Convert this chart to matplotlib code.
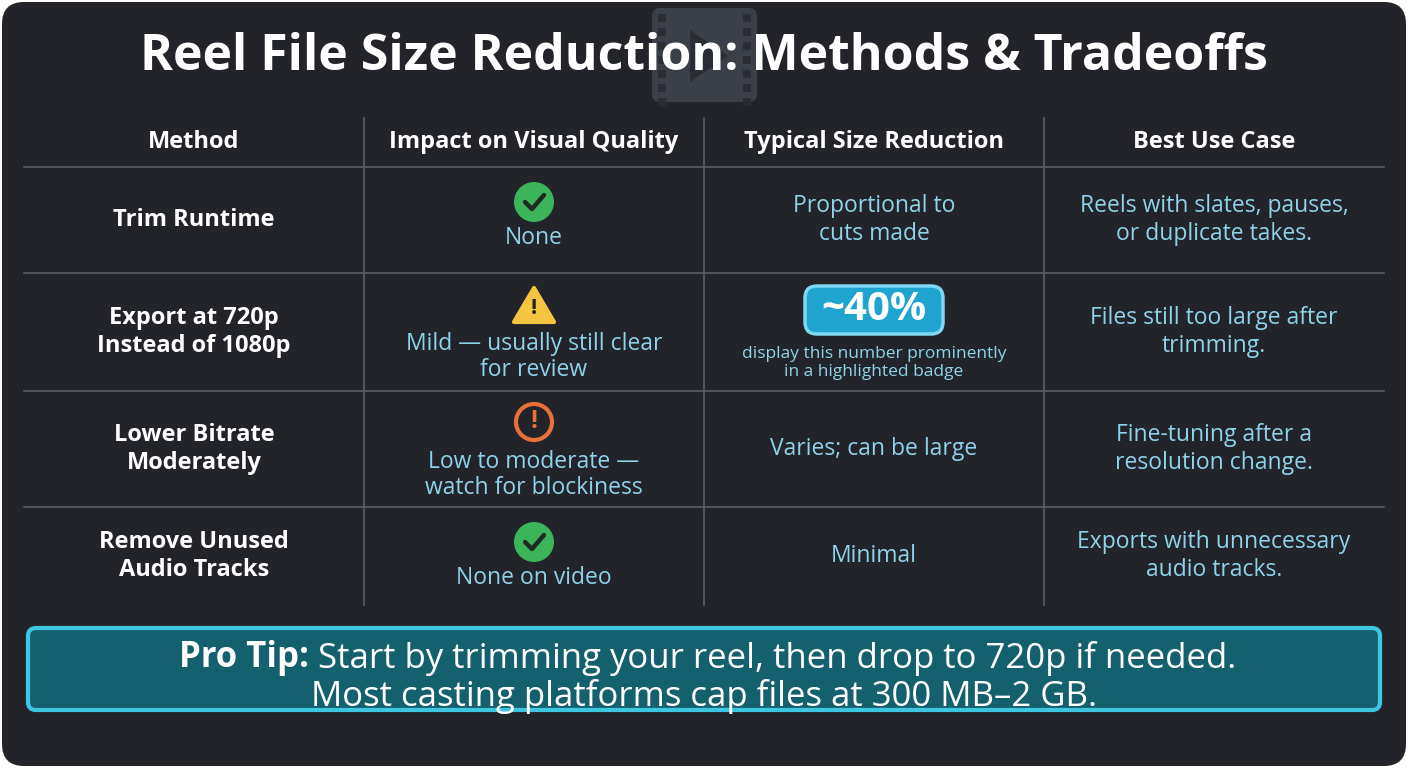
import matplotlib
matplotlib.use("Agg")
import matplotlib.pyplot as plt
import matplotlib.transforms as mtrans
from matplotlib.patches import FancyBboxPatch, Circle, Polygon, Rectangle

title = "Reel File Size Reduction: Methods & Tradeoffs"
headers = ["Method", "Impact on Visual Quality", "Typical Size Reduction", "Best Use Case"]
methods = ["Trim Runtime", "Export at 720p\nInstead of 1080p", "Lower Bitrate\nModerately", "Remove Unused\nAudio Tracks"]
impacts = ["None", "Mild — usually still clear\nfor review", "Low to moderate —\nwatch for blockiness", "None on video"]
icons = ["check", "warn", "alert", "check"]
reductions = ["Proportional to\ncuts made", "~40%", "Varies; can be large", "Minimal"]
badge_note = "display this number prominently\nin a highlighted badge"
uses = ["Reels with slates, pauses,\nor duplicate takes.", "Files still too large after\ntrimming.",
        "Fine-tuning after a\nresolution change.", "Exports with unnecessary\naudio tracks."]
tip_bold = "Pro Tip:"
tip_line1 = " Start by trimming your reel, then drop to 720p if needed."
tip_line2 = "Most casting platforms cap files at 300 MB–2 GB."

FONT = "Open Sans"
W, H = 1408, 768
fig = plt.figure(figsize=(14.08, 7.68), dpi=100, facecolor="white")
ax = fig.add_axes([0, 0, 1, 1])
ax.set_xlim(0, W); ax.set_ylim(H, 0); ax.axis("off")

ax.add_patch(FancyBboxPatch((2, 2), W - 4, H - 4, boxstyle="round,pad=0,rounding_size=22",
                            fc="#222429", ec="none"))
# film icon
ax.add_patch(FancyBboxPatch((652, 8), 105, 94, boxstyle="round,pad=0,rounding_size=8", fc="#3a3f48", ec="none", zorder=1))
for yy in range(14, 100, 14):
    ax.add_patch(Rectangle((658, yy), 8, 8, fc="#2a2d33", ec="none", zorder=1.5))
    ax.add_patch(Rectangle((743, yy), 8, 8, fc="#2a2d33", ec="none", zorder=1.5))
ax.add_patch(Polygon([(690, 30), (690, 82), (728, 56)], fc="#2a2d33", ec="none", zorder=1.5))
ax.text(704, 57, title, ha="center", va="center", color="white", fontsize=36, fontweight="bold",
        family=FONT, zorder=3)

cols = [24, 364, 704, 1044, 1384]
rows = [118, 167, 273, 391, 507, 605]
lc = "#5a5e66"
for x in cols[1:-1]:
    ax.plot([x, x], [rows[0], rows[-1]], color=lc, lw=1.2)
for y in rows[1:-1]:
    ax.plot([cols[0], cols[-1]], [y, y], color=lc, lw=1.2)
cx = [(cols[i] + cols[i + 1]) / 2 for i in range(4)]
blue = "#8fd3ea"
for i, h in enumerate(headers):
    ax.text(cx[i], 142, h, ha="center", va="center", color="white", fontsize=17, fontweight="bold", family=FONT)

for r in range(4):
    y0, y1 = rows[r + 1], rows[r + 2]
    ym = (y0 + y1) / 2
    ax.text(cx[0], ym, methods[r], ha="center", va="center", color="white", fontsize=17,
            fontweight="bold", family=FONT, linespacing=1.25)
    iy = y0 + 33
    if icons[r] == "check":
        ax.add_patch(Circle((cx[1], iy + 2), 20, fc="#3cb55a", ec="none"))
        ax.plot([cx[1] - 9, cx[1] - 2, cx[1] + 10], [iy + 2, iy + 9, iy - 5], color="#1e2a22", lw=3.2,
                solid_capstyle="round", solid_joinstyle="round")
    elif icons[r] == "warn":
        ax.add_patch(Polygon([(cx[1] - 20, iy + 16), (cx[1] + 20, iy + 16), (cx[1], iy - 18)],
                             closed=True, fc="#f5c542", ec="#f5c542", lw=3, joinstyle="round"))
        ax.text(cx[1], iy + 2, "!", ha="center", va="center", color="#222", fontsize=16, fontweight="bold", family=FONT)
    else:
        ax.add_patch(Circle((cx[1], iy - 2), 18, fc="none", ec="#e8703a", lw=3))
        ax.text(cx[1], iy - 3, "!", ha="center", va="center", color="#e8703a", fontsize=18, fontweight="bold", family=FONT)
    ty = y0 + 71 + (13 if "\n" in impacts[r] else 0)
    ax.text(cx[1], ty, impacts[r], ha="center", va="center",
            color=blue, fontsize=16.5, family=FONT, linespacing=1.15)
    if reductions[r].startswith("~"):
        ax.add_patch(FancyBboxPatch((805, 286), 138, 48, boxstyle="round,pad=0,rounding_size=12",
                                    fc="#1fa3cf", ec="#7fd9f2", lw=2.5))
        ax.text(874, 310, reductions[r], ha="center", va="center", color="white", fontsize=29,
                fontweight="bold", family=FONT)
        ax.text(874, 363, badge_note, ha="center", va="center", color=blue, fontsize=12.5,
                family=FONT, linespacing=1.15)
    else:
        ax.text(cx[2], ym, reductions[r], ha="center", va="center", color=blue, fontsize=16.5,
                family=FONT, linespacing=1.25)
    ax.text(cx[3], ym, uses[r], ha="center", va="center", color=blue, fontsize=16.5,
            family=FONT, linespacing=1.25)

ax.add_patch(FancyBboxPatch((28, 628), 1352, 82, boxstyle="round,pad=0,rounding_size=8",
                            fc="#15606f", ec="#3cc6e0", lw=3))
ident = mtrans.IdentityTransform()
blend = mtrans.blended_transform_factory(ident, ax.transData)
t1 = ax.text(704, 658, tip_bold + tip_line1, ha="center", va="center", color="white", fontsize=25,
             family=FONT, alpha=0)
fig.canvas.draw()
bb = t1.get_window_extent()
tb = ax.text(bb.x0, 658, tip_bold, ha="left", va="center", color="white",
             fontsize=25, fontweight="bold", family=FONT, transform=blend)
fig.canvas.draw()
bb2 = tb.get_window_extent()
ax.text(bb2.x1, 658, tip_line1, ha="left", va="center", color="white", fontsize=25, family=FONT,
        transform=blend)
ax.text(704, 696, tip_line2, ha="center", va="center", color="white", fontsize=25, family=FONT)

fig.savefig("out.png", dpi=100, facecolor="white")
